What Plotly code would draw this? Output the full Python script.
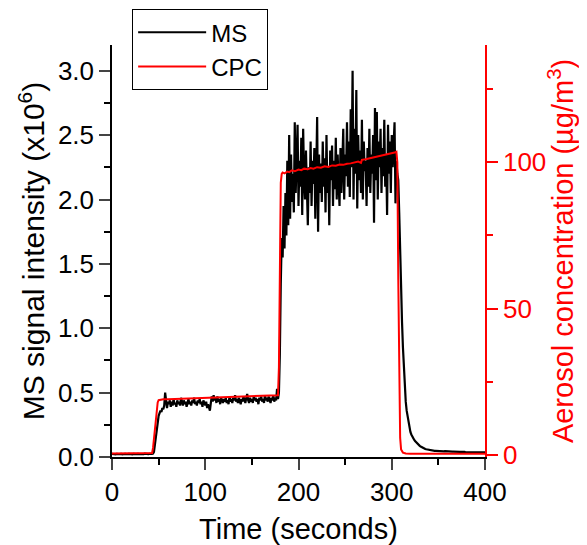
import plotly.graph_objects as go

# ---------------- data ----------------
# MS signal intensity (x10^6), 1-second samples, split into segments by start time
MS_START_A = 0
MS_A = [0.024, 0.022, 0.025, 0.023, 0.021, 0.024, 0.026, 0.022, 0.023, 0.025,
        0.024, 0.021, 0.023, 0.026, 0.024, 0.022, 0.025, 0.023, 0.024, 0.022,
        0.025, 0.023, 0.021, 0.024, 0.026, 0.023, 0.022, 0.025, 0.024, 0.023,
        0.022, 0.025, 0.024, 0.021, 0.023, 0.026, 0.024, 0.022, 0.025, 0.023,
        0.024, 0.022, 0.025, 0.024, 0.026,
        0.04, 0.10, 0.17, 0.24, 0.29, 0.32, 0.34, 0.36, 0.35, 0.38,
        0.37, 0.40, 0.50, 0.41, 0.38, 0.43]

MS_START_B = 61
MS_B = [0.41, 0.44, 0.39, 0.43, 0.40, 0.45, 0.41, 0.42, 0.39, 0.44,
        0.41, 0.43, 0.40, 0.46, 0.42, 0.40, 0.44, 0.41, 0.43, 0.39,
        0.42, 0.45, 0.41, 0.43, 0.40, 0.44, 0.42, 0.46, 0.41, 0.43,
        0.40, 0.44, 0.42, 0.45, 0.41, 0.43, 0.39, 0.44, 0.42, 0.40,
        0.43, 0.38, 0.41, 0.37, 0.36, 0.42, 0.47, 0.43, 0.48, 0.44,
        0.46, 0.42, 0.47, 0.43, 0.45, 0.41, 0.46, 0.44, 0.42, 0.45,
        0.43, 0.46, 0.42, 0.44, 0.41, 0.47, 0.43, 0.45, 0.42, 0.46,
        0.44, 0.48, 0.43, 0.45, 0.42, 0.46, 0.44, 0.41, 0.45, 0.43,
        0.47, 0.44, 0.42, 0.46, 0.49, 0.44, 0.42, 0.46, 0.43, 0.45,
        0.42, 0.47, 0.44, 0.46, 0.43, 0.45, 0.41, 0.46, 0.44, 0.47,
        0.43, 0.45, 0.42, 0.48, 0.44, 0.46, 0.43, 0.47, 0.44, 0.42,
        0.46, 0.44, 0.48, 0.43, 0.46, 0.44, 0.53, 0.45, 0.50]

MS_START_C = 180
MS_C = [0.80, 1.35, 1.70, 1.55, 1.95, 1.62, 2.05, 1.72, 2.30, 1.80,
        2.50, 1.85, 2.35, 1.98, 2.20, 1.90, 2.60, 2.05, 2.42, 2.58,
        1.95, 2.30, 2.10, 2.48, 1.88, 2.55, 2.15, 2.00, 2.38, 1.92,
        1.80, 2.25, 2.05, 2.45, 1.95, 2.30, 2.12, 2.40, 1.85, 2.20,
        2.64, 1.75, 2.35, 2.05, 2.28, 1.98, 2.45, 2.10, 2.32, 1.90,
        2.50, 2.05, 2.25, 1.80, 2.38, 2.15, 2.42, 1.95, 2.30, 2.08,
        2.48, 2.00, 2.35, 2.12, 1.95, 2.40, 2.05, 2.28, 2.55, 2.00,
        2.35, 2.18, 2.60, 2.10, 2.45, 2.02, 2.70, 2.25, 3.00, 2.00,
        2.55, 2.20, 2.85, 1.93, 2.50, 2.15, 2.38, 2.05, 2.62, 2.00,
        2.45, 2.22, 2.30, 1.95, 2.40, 2.10, 2.55, 2.05, 2.35, 2.20,
        2.50, 1.82, 2.71, 2.15, 2.68, 2.00, 2.45, 2.25, 2.55, 2.05,
        2.40, 2.18, 2.62, 2.10, 2.35, 1.88, 2.58, 2.20, 2.45, 2.05,
        2.50, 2.25, 2.38, 2.60, 1.97, 2.30, 2.20, 2.15, 1.90, 1.55,
        1.30, 1.05, 0.85, 0.68, 0.54, 0.43]

MS_START_D = 316
MS_D = [0.36, 0.31, 0.26, 0.22, 0.195, 0.175, 0.158, 0.145, 0.134, 0.124,
        0.115, 0.106, 0.099, 0.092, 0.087, 0.082, 0.077, 0.073, 0.070, 0.066,
        0.063, 0.060, 0.058, 0.056, 0.054, 0.053, 0.052, 0.051, 0.050, 0.049,
        0.048, 0.048, 0.047, 0.047, 0.046, 0.046, 0.045, 0.046, 0.045, 0.044,
        0.044, 0.045, 0.044, 0.043, 0.043, 0.044, 0.043, 0.042, 0.043, 0.042,
        0.042, 0.041, 0.042, 0.041, 0.041, 0.040, 0.041, 0.040, 0.040, 0.041,
        0.040, 0.039, 0.040, 0.039, 0.039, 0.040, 0.039, 0.038, 0.039, 0.038,
        0.038, 0.039, 0.038, 0.038, 0.037, 0.038, 0.037, 0.038, 0.037, 0.037,
        0.036, 0.037, 0.036, 0.037, 0.036]

# CPC aerosol concentration (ug/m3)
CPC_T = [0, 10, 20, 30, 40, 42, 43, 44, 45, 46, 47, 48, 49, 50, 52, 55, 60,
         70, 80, 90, 100, 110, 120, 130, 140, 150, 160, 170, 175, 178, 179,
         180, 181, 182, 183, 185, 188, 190, 193, 196, 200, 203, 206, 210, 213,
         216, 220, 224, 228, 232, 236, 240, 244, 248, 252, 256, 260, 264, 267,
         268, 272, 276, 280, 284, 288, 292, 296, 300, 303, 305, 306, 307, 308,
         309, 310, 312, 315, 320, 340, 360, 380, 400]
CPC_V = [0.6, 0.6, 0.6, 0.6, 0.6, 0.6, 0.8, 2.5, 6.0, 10.0, 13.5, 16.5, 18.0,
         18.8, 19.0, 19.1, 19.1, 19.2, 19.3, 19.4, 19.5, 19.6, 19.7, 19.8, 19.9,
         20.0, 20.1, 20.2, 20.3, 20.5, 30.0, 70.0, 93.0, 96.0, 96.5, 96.2, 96.8,
         96.6, 97.2, 96.9, 97.5, 97.3, 97.8, 97.6, 98.0, 97.8, 98.3, 98.1, 98.6,
         98.4, 98.9, 98.8, 99.2, 99.1, 99.5, 99.6, 99.9, 100.2, 99.8, 100.8,
         101.0, 101.3, 101.6, 101.8, 102.1, 102.3, 102.7, 103.0, 103.3, 103.6,
         100.0, 60.0, 22.0, 6.0, 2.0, 0.9, 0.6, 0.5, 0.5, 0.5, 0.5, 0.5]

X_TICKS = [0, 100, 200, 300, 400]
Y1_TICKS = [0.0, 0.5, 1.0, 1.5, 2.0, 2.5, 3.0]
Y2_TICKS = [0, 50, 100]

# ---------------- build ----------------
ms_t, ms_v = [], []
for start, seg in ((MS_START_A, MS_A), (MS_START_B, MS_B), (MS_START_C, MS_C), (MS_START_D, MS_D)):
    for i, v in enumerate(seg):
        ms_t.append(start + i)
        ms_v.append(v)

FONT = "Liberation Sans, Arial, sans-serif"

fig = go.Figure()
fig.add_trace(go.Scatter(x=ms_t, y=ms_v, mode="lines", name="MS",
                         line=dict(color="black", width=2.2), yaxis="y"))
fig.add_trace(go.Scatter(x=CPC_T, y=CPC_V, mode="lines", name="CPC",
                         line=dict(color="#ff0000", width=2), yaxis="y2"))

# page body has an 8px margin, so the figure is offset by 8px inside the window
fig.update_layout(
    width=571, height=537,
    margin=dict(l=104, r=94, t=37, b=88, autoexpand=False),
    paper_bgcolor="white", plot_bgcolor="white",
    font=dict(family=FONT, size=26, color="black"),
    showlegend=True,
    legend=dict(x=0.054, y=1.087, xanchor="left", yanchor="top",
                bordercolor="black", borderwidth=1, bgcolor="white",
                font=dict(size=24), itemwidth=68, tracegroupgap=0),
    xaxis=dict(range=[0, 400], tickvals=X_TICKS, ticks="outside", ticklen=11,
               tickwidth=1.5, showline=True, linecolor="black", linewidth=1.5,
               showgrid=False, zeroline=False, tickfont=dict(size=26),
               minor=dict(dtick=50, ticks="outside", ticklen=6, tickwidth=1.5, tickcolor="black", showgrid=False),
               title=dict(text="Time (seconds)", font=dict(size=29), standoff=15),
               automargin=True),
    yaxis=dict(range=[0, 3.2], tickvals=Y1_TICKS, tickformat=".1f", ticks="outside",
               ticklen=11, tickwidth=1.5, showline=True, linecolor="black", linewidth=1.5,
               showgrid=False, zeroline=False, tickfont=dict(size=26),
               minor=dict(dtick=0.25, ticks="outside", ticklen=6, tickwidth=1.5, tickcolor="black", showgrid=False),
               title=dict(text="MS signal intensity (x10<sup>6</sup>)", font=dict(size=30), standoff=4),
               automargin=False),
    yaxis2=dict(range=[-0.6, 140], tickvals=Y2_TICKS, overlaying="y", side="right", anchor="x",
                ticks="outside", ticklen=11, tickwidth=1.5, tickcolor="#ff0000",
                showline=True, linecolor="#ff0000", linewidth=1.5,
                showgrid=False, zeroline=False, tickfont=dict(size=26, color="#ff0000"),
                minor=dict(dtick=25, ticks="outside", ticklen=6, tickwidth=1.5, tickcolor="#ff0000", showgrid=False),
                title=dict(text="Aerosol concentration (µg/m<sup>3</sup>)", font=dict(size=29, color="#ff0000"), standoff=4),
                automargin=False),
)

fig.write_html("out.html")
